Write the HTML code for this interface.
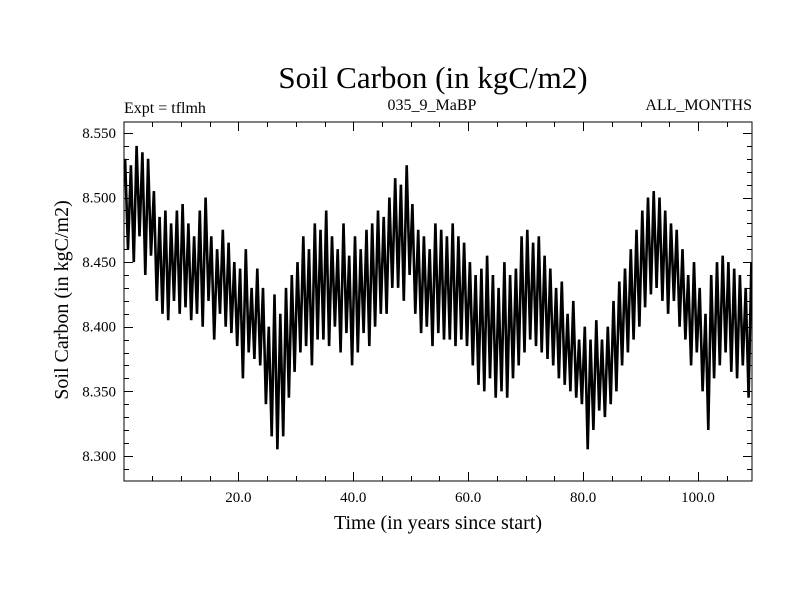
<!DOCTYPE html>
<html><head><meta charset="utf-8"><style>
body{margin:0;background:#fff;}
svg{display:block;font-family:"Liberation Serif",serif;}
</style></head><body>
<svg id="chart" width="800" height="600" viewBox="0 0 800 600" xmlns="http://www.w3.org/2000/svg">
<defs><clipPath id="pc"><rect x="124" y="122" width="628" height="359"/></clipPath></defs>
<rect width="800" height="600" fill="#fff"/>
<text x="433" y="88" font-size="31" text-anchor="middle">Soil Carbon (in kgC/m2)</text>
<text x="124" y="113" font-size="16">Expt = tflmh</text>
<text x="432" y="110" font-size="16" text-anchor="middle">035_9_MaBP</text>
<text x="752" y="110" font-size="16" text-anchor="end">ALL_MONTHS</text>
<text transform="translate(68,300) rotate(-90)" font-size="20" text-anchor="middle">Soil Carbon (in kgC/m2)</text>
<text x="438" y="529" font-size="20" text-anchor="middle">Time (in years since start)</text>
<g id="ticks"></g>
<g id="series" clip-path="url(#pc)"></g>
<rect x="124" y="122" width="628" height="359" fill="none" stroke="#000" stroke-width="1"/>
</svg>
<script>
const yTickLabels = ["8.300","8.350","8.400","8.450","8.500","8.550"];
const yTickValues = [8.30,8.35,8.40,8.45,8.50,8.55];
const xTickLabels = ["20.0","40.0","60.0","80.0","100.0"];
const xTickValues = [20,40,60,80,100];
const annualPeaks = [
8.53,8.525,8.54,8.535,8.53,8.505,8.485,8.49,8.48,8.49,
8.495,8.48,8.47,8.49,8.50,8.47,8.46,8.475,8.465,8.45,
8.445,8.46,8.43,8.445,8.43,8.40,8.425,8.41,8.43,8.44,
8.45,8.47,8.46,8.48,8.475,8.49,8.47,8.46,8.48,8.455,
8.47,8.46,8.475,8.48,8.49,8.485,8.50,8.515,8.51,8.525,
8.495,8.475,8.47,8.46,8.48,8.475,8.47,8.48,8.47,8.465,
8.45,8.44,8.445,8.455,8.44,8.43,8.45,8.44,8.445,8.47,
8.475,8.465,8.47,8.455,8.445,8.43,8.435,8.41,8.42,8.39,
8.40,8.39,8.405,8.39,8.40,8.42,8.435,8.445,8.46,8.475,
8.49,8.50,8.505,8.50,8.49,8.48,8.475,8.46,8.44,8.45,
8.43,8.41,8.44,8.45,8.455,8.45,8.445,8.44,8.43,8.45];
const annualTroughs = [
8.46,8.45,8.47,8.44,8.455,8.42,8.41,8.405,8.42,8.41,
8.415,8.405,8.41,8.40,8.42,8.39,8.41,8.40,8.395,8.385,
8.36,8.38,8.375,8.37,8.34,8.315,8.305,8.315,8.345,8.365,
8.38,8.385,8.37,8.39,8.39,8.385,8.40,8.38,8.395,8.37,
8.38,8.395,8.385,8.40,8.41,8.41,8.43,8.43,8.42,8.44,
8.41,8.395,8.40,8.385,8.395,8.39,8.39,8.385,8.39,8.385,
8.37,8.355,8.35,8.36,8.345,8.35,8.345,8.36,8.37,8.38,
8.39,8.385,8.38,8.375,8.37,8.36,8.355,8.35,8.345,8.34,
8.305,8.32,8.335,8.33,8.34,8.35,8.37,8.38,8.39,8.40,
8.415,8.425,8.43,8.42,8.41,8.42,8.40,8.39,8.37,8.38,
8.35,8.32,8.36,8.37,8.38,8.365,8.36,8.37,8.345,8.36];

const X0=124,X1=752,Y0=481,Y1=122;
const xMin=0.1,xMax=109.4,yMin=8.2805,yMax=8.5585;
const xs=v=>X0+(v-xMin)/(xMax-xMin)*(X1-X0);
const ys=v=>Y0-(v-yMin)/(yMax-yMin)*(Y0-Y1);
const NS="http://www.w3.org/2000/svg";
const tg=document.getElementById('ticks');
function line(x1,y1,x2,y2,name){
  const l=document.createElementNS(NS,'line');
  l.setAttribute('x1',x1);l.setAttribute('y1',y1);l.setAttribute('x2',x2);l.setAttribute('y2',y2);
  l.setAttribute('stroke','#000');l.setAttribute('stroke-width','1');
  
  
  tg.appendChild(l);
}
for(let i=0;i<=27;i++){
  const v=8.29+i*0.01; if(v>yMax) break;
  const y=Math.round(ys(v))+0.5;
  const r=Math.round(v*100)%5;
  const len=(r===0)?9:5;
  line(X0,y,X0+len,y,'y-tick');
  line(X1,y,X1-len,y,'y-tick-right');
}
yTickValues.forEach((v,i)=>{
  const t=document.createElementNS(NS,'text');
  t.setAttribute('x',116);t.setAttribute('y',ys(v)+5);
  t.setAttribute('font-size','15');t.setAttribute('text-anchor','end');
  t.textContent=yTickLabels[i];
  
  
  tg.appendChild(t);
});
for(let v=5;v<xMax;v+=5){
  const x=Math.round(xs(v))+0.5;
  const len=(v%20===0)?9:5;
  line(x,Y0,x,Y0-len,'x-tick');
  line(x,Y1,x,Y1+len,'x-tick-top');
}
xTickValues.forEach((v,i)=>{
  const t=document.createElementNS(NS,'text');
  t.setAttribute('x',xs(v));t.setAttribute('y',502);
  t.setAttribute('font-size','15');t.setAttribute('text-anchor','middle');
  t.textContent=xTickLabels[i];
  
  
  tg.appendChild(t);
});
let d='';
annualPeaks.forEach((p,i)=>{
  const px=xs(i+0.3), tx=xs(i+0.8);
  d+=(i===0?'M':'L')+px.toFixed(1)+','+ys(p).toFixed(1)+'L'+tx.toFixed(1)+','+ys(annualTroughs[i]).toFixed(1);
});
const path=document.createElementNS(NS,'path');
path.setAttribute('d',d);path.setAttribute('fill','none');
path.setAttribute('stroke','#000');path.setAttribute('stroke-width','2.6');


document.getElementById('series').appendChild(path);
</script>
</body></html>
